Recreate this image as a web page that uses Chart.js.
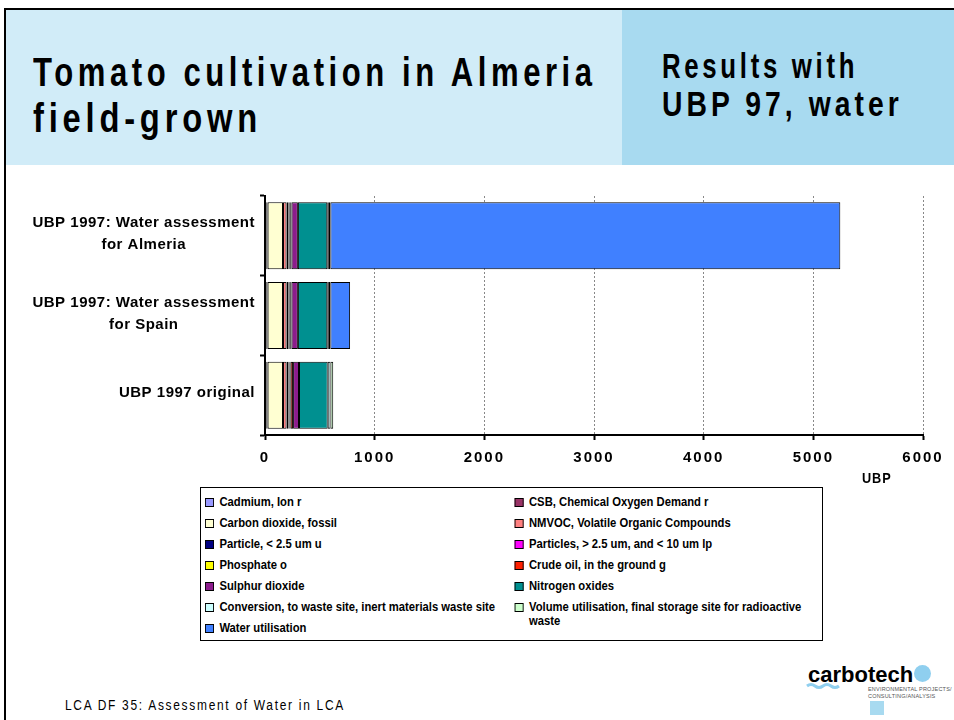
<!DOCTYPE html>
<html><head><meta charset="utf-8">
<script src="https://cdn.jsdelivr.net/npm/chart.js@4.4.1/dist/chart.umd.min.js"></script>
<style>
html,body{margin:0;padding:0;background:#fff;}
body{width:954px;height:720px;position:relative;overflow:hidden;font-family:'Liberation Sans',Arial,sans-serif;color:#000;}
#frameTop{position:absolute;left:4px;top:8px;width:950px;height:2px;background:#000;}
#frameLeft{position:absolute;left:4px;top:8px;width:2px;height:712px;background:#000;}
#hdrL{position:absolute;left:6px;top:10px;width:616px;height:155px;background:#D1ECF8;}
#hdrR{position:absolute;left:622px;top:10px;width:332px;height:155px;background:#A8DAF0;}
.fit{position:absolute;white-space:nowrap;line-height:1;transform-origin:0 0;}
.t1{left:33px;font-weight:bold;font-size:41px;letter-spacing:6px;}
.t2{left:662px;font-weight:bold;font-size:35px;letter-spacing:5px;}
#chartWrap{position:absolute;left:0;top:180px;width:954px;height:300px;}
#unit{left:862px;top:471px;font-weight:bold;font-size:14px;letter-spacing:1px;}
#legend{position:absolute;left:200px;top:487px;width:621px;height:152px;border:1px solid #000;}
#legendGrid{position:absolute;left:4px;top:7px;display:grid;grid-template-columns:344px 334px;grid-auto-rows:21px;transform:scaleX(0.9);transform-origin:0 0;}
.li{display:flex;align-items:flex-start;font-weight:bold;font-size:12.5px;line-height:14px;white-space:normal;}
.sw{flex:none;width:8px;height:7px;border:1px solid #000;margin:3px 6px 0 0;}
#footer{left:65px;top:698px;font-size:14px;letter-spacing:2px;}
#logo{position:absolute;left:800px;top:660px;width:154px;height:60px;}
#logoText{position:absolute;left:8px;top:4px;font-weight:bold;font-size:22px;line-height:1;}
#logoDot{position:absolute;left:114px;top:5px;width:17px;height:17px;border-radius:50%;background:#8FCFEF;}
#logoSub{position:absolute;left:68px;top:26px;font-size:5.5px;line-height:7px;color:#555;letter-spacing:0.2px;white-space:nowrap;}
#logoSq{position:absolute;left:70px;top:41px;width:14px;height:14px;background:#A8DAF0;}
#logoWave{position:absolute;left:6px;top:22px;}
</style></head>
<body>
<div id="frameTop"></div><div id="frameLeft"></div>
<div id="hdrL"></div><div id="hdrR"></div>
<div class="fit t1" style="top:52px" data-w="564">Tomato cultivation in Almeria</div>
<div class="fit t1" style="top:98px" data-w="229">field-grown</div>
<div class="fit t2" style="top:48px" data-w="196">Results with</div>
<div class="fit t2" style="top:86px" data-w="241">UBP 97, water</div>
<div id="chartWrap"><canvas id="c" width="954" height="300"></canvas></div>
<div class="fit" id="unit" data-w="30">UBP</div>
<div id="legend"><div id="legendGrid"></div></div>
<div class="fit" id="footer" data-w="280">LCA DF 35: Assessment of Water in LCA</div>
<div id="logo">
  <div id="logoText">carbotech</div>
  <div id="logoDot"></div>
  <svg id="logoWave" width="36" height="8" viewBox="0 0 36 8"><path d="M1 4 Q5 1 9 4 T17 4 T25 4 T33 4" stroke="#8FCFEF" stroke-width="3" fill="none"/></svg>
  <div id="logoSub">ENVIRONMENTAL PROJECTS/<br>CONSULTING/ANALYSIS</div>
  <div id="logoSq"></div>
</div>
<script>
// ---- data ----
const categories = [
  ['UBP 1997: Water assessment', 'for Almeria'],
  ['UBP 1997: Water assessment', 'for Spain'],
  ['UBP 1997 original']
];
const seriesNames = [
  'Cadmium, Ion   r',
  'CSB, Chemical Oxygen Demand   r',
  'Carbon dioxide, fossil',
  'NMVOC, Volatile Organic Compounds',
  'Particle,  <  2.5 um   u',
  'Particles,  >  2.5 um, and  <  10 um lp',
  'Phosphate   o',
  'Crude oil, in the ground   g',
  'Sulphur dioxide',
  'Nitrogen oxides',
  'Conversion, to waste site, inert materials waste site',
  'Volume utilisation, final storage site for radioactive waste',
  'Water utilisation'
];
const seriesColors = [
  '#9999FF', '#993366', '#FFFFD2', '#FF8080', '#000080', '#FF00FF', '#FFFF00',
  '#FF2000', '#8C1C8C', '#009090', '#CCFFFF', '#CCFFCC', '#4080FF'
];
const cadmium       = [12, 12, 12];
const csb           = [12, 12, 12];
const carbonDioxide = [140, 140, 140];
const nmvoc         = [32, 32, 32];
const particleFine  = [18, 18, 18];
const particleMid   = [8, 8, 10];
const phosphate     = [8, 8, 10];
const crudeOil      = [12, 12, 22];
const sulphurDioxide= [58, 58, 54];
const nitrogenOxides= [268, 268, 262];
const conversion    = [14, 14, 25];
const volumeUtil    = [14, 14, 25];
const waterUtil     = [4650, 180, 0];
const seriesValues = [cadmium, csb, carbonDioxide, nmvoc, particleFine, particleMid, phosphate,
  crudeOil, sulphurDioxide, nitrogenOxides, conversion, volumeUtil, waterUtil];
const xTicks = [0, 1000, 2000, 3000, 4000, 5000, 6000];

const FONT = "'Liberation Sans',Arial,sans-serif";

// squeeze header/footer text to the reference widths (narrow-font look)
document.querySelectorAll('.fit[data-w]').forEach(el => {
  const w = +el.dataset.w;
  el.style.transform = 'scaleX(' + (w / el.offsetWidth) + ')';
});

// legend (HTML, built from the series arrays)
const lg = document.getElementById('legendGrid');
seriesNames.forEach((n, i) => {
  const d = document.createElement('div'); d.className = 'li';
  const s = document.createElement('span'); s.className = 'sw'; s.style.background = seriesColors[i];
  const t = document.createElement('span'); t.textContent = n;
  d.appendChild(s); d.appendChild(t); lg.appendChild(d);
});

const spacingPlugin = {
  id: 'spacing',
  beforeUpdate(chart) { chart.ctx.letterSpacing = '2px'; },
  beforeDraw(chart) { chart.ctx.letterSpacing = '2px'; }
};
const yLabelPlugin = {
  id: 'ylabels',
  afterDraw(chart) {
    const sc = chart.scales.y, ctx = chart.ctx;
    ctx.save();
    ctx.letterSpacing = '0.5px';
    ctx.font = "bold 15px " + FONT;
    ctx.fillStyle = '#000';
    ctx.textAlign = 'center';
    ctx.textBaseline = 'middle';
    const anchor = sc.right - 10;
    categories.forEach((lines, i) => {
      const yc = sc.getPixelForValue(i);
      const w = Math.max(...lines.map(l => ctx.measureText(l).width));
      const cx = anchor - w / 2;
      const lh = 22;
      const y0 = yc - (lines.length - 1) * lh / 2 - 2;
      lines.forEach((l, k) => ctx.fillText(l, cx, y0 + k * lh));
    });
    ctx.restore();
  }
};

new Chart(document.getElementById('c'), {
  type: 'bar',
  data: {
    labels: categories.map(c => c.join(' ')),
    datasets: seriesNames.map((n, i) => ({
      label: n,
      data: seriesValues[i],
      backgroundColor: seriesColors[i],
      borderColor: '#000',
      borderWidth: 1,
      borderSkipped: false,
      barPercentage: 0.84,
      categoryPercentage: 1
    }))
  },
  options: {
    indexAxis: 'y',
    responsive: false,
    animation: false,
    layout: { padding: { left: 0, right: 31, top: 16, bottom: 0 } },
    plugins: { legend: { display: false }, tooltip: { enabled: false } },
    scales: {
      x: {
        stacked: true, min: 0, max: 6000,
        afterBuildTicks(s) { s.ticks = xTicks.map(v => ({ value: v })); },
        afterFit(s) { s.height = 45; },
        grid: { color: '#888', lineWidth: 1, tickColor: '#000', tickLength: 5, tickWidth: 2 },
        border: { display: true, color: '#000', width: 2, dash: [2, 2] },
        ticks: { color: '#000', padding: 9, font: { family: FONT, size: 15, weight: 'bold' },
                 callback: v => String(v) }
      },
      y: {
        stacked: true,
        afterFit(s) { s.width = 265; },
        grid: { drawOnChartArea: false, offset: true, color: '#000', tickLength: 5, tickWidth: 2 },
        border: { display: true, color: '#000', width: 2 },
        ticks: { display: false }
      }
    }
  },
  plugins: [spacingPlugin, yLabelPlugin]
});
</script>
</body></html>
